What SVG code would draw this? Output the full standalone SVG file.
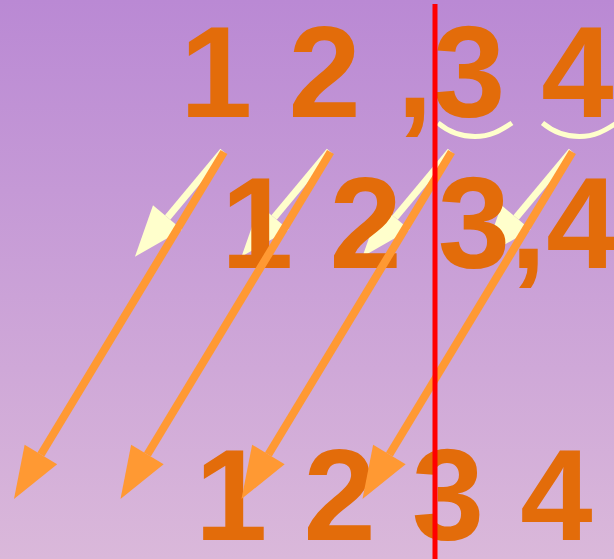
<svg xmlns="http://www.w3.org/2000/svg" width="614" height="559" viewBox="0 0 614 559">
  <defs>
    <linearGradient id="bg" x1="0" y1="0" x2="0" y2="1">
      <stop offset="0" stop-color="#BA89D4"/>
      <stop offset="1" stop-color="#DAB8DA"/>
    </linearGradient>
    <marker id="headOrange" markerUnits="userSpaceOnUse" markerWidth="60" markerHeight="60" refX="0" refY="0" orient="auto" overflow="visible">
      <path d="M52,0 L0,-19 L0,19 Z" fill="#FF9933"/>
    </marker>
    <marker id="headCream" markerUnits="userSpaceOnUse" markerWidth="60" markerHeight="60" refX="0" refY="0" orient="auto" overflow="visible">
      <path d="M51,0 L0,-19 L0,19 Z" fill="#FFFFCC"/>
    </marker>
    <style>
      .digits { font-family: "Liberation Sans", Arial, sans-serif; font-weight: bold; font-size: 130px; fill: #E36C0A; }
      .cream { stroke: #FFFFCC; stroke-width: 7; fill: none; marker-end: url(#headCream); }
      .orange { stroke: #FF9933; stroke-width: 8; fill: none; marker-end: url(#headOrange); }
      .brace { stroke: #FFFFCC; stroke-width: 5; fill: none; }
    </style>
  </defs>
  <rect x="0" y="0" width="614" height="559" fill="url(#bg)"/>

  <g id="cream-arrows">
    <line class="cream" x1="223" y1="151" x2="167.6" y2="217.5"/>
    <line class="cream" x1="329.5" y1="151" x2="274.1" y2="217.5"/>
    <line class="cream" x1="450.5" y1="151" x2="395.1" y2="217.5"/>
    <line class="cream" x1="571.5" y1="151" x2="516.1" y2="217.5"/>
  </g>

  <g id="row1">
    <text class="digits" x="180" y="117">1 2 ,3 4</text>
  </g>
  <g id="braces">
    <path class="brace" d="M438,123 C450,133 462,136.5 475,136.5 C490,136.5 500,131 512,123"/>
    <path class="brace" d="M542.5,123 C554.5,133 566.5,136.5 579.5,136.5 C594.5,136.5 604.5,131 616.5,123"/>
  </g>
  <g id="row2">
    <text class="digits" x="221" y="268">1 2 3,4</text>
  </g>
  <g id="row3">
    <text class="digits" x="195" y="540">1 2 3 4</text>
  </g>

  <g id="connectors">
    <line class="orange" x1="224" y1="152" x2="40.9" y2="454.5"/>
    <line class="orange" x1="330.5" y1="152" x2="147.4" y2="454.5"/>
    <line class="orange" x1="451.5" y1="152" x2="268.4" y2="454.5"/>
    <line class="orange" x1="572.5" y1="152" x2="389.4" y2="454.5"/>
  </g>

  <g id="divider">
    <line x1="435" y1="4" x2="435" y2="559" stroke="#FF0000" stroke-width="5"/>
  </g>
</svg>
